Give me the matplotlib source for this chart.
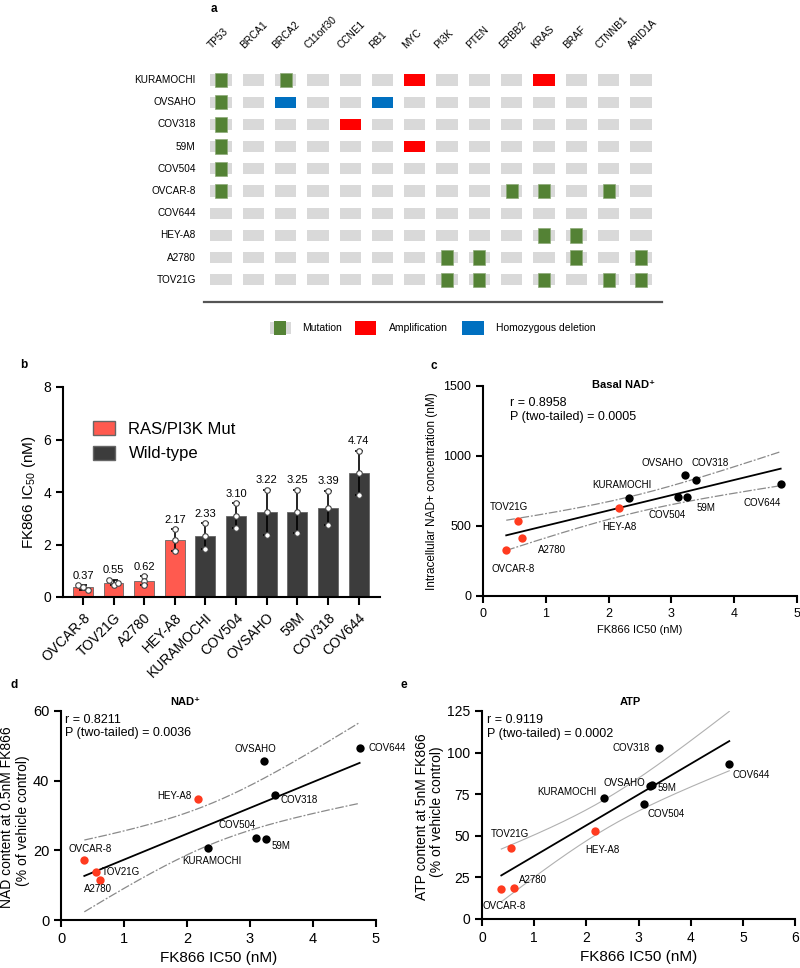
import numpy as np
import matplotlib
matplotlib.use("Agg")
import matplotlib.pyplot as plt
from matplotlib.patches import Rectangle, Patch

plt.rcParams['font.family'] = ['Liberation Sans', 'DejaVu Sans']
plt.rcParams['mathtext.default'] = 'regular'

W, H = 800, 968

# ---- panel a: alteration map ----
genes = ["TP53", "BRCA1", "BRCA2", "C11orf30", "CCNE1", "RB1", "MYC", "PI3K",
         "PTEN", "ERBB2", "KRAS", "BRAF", "CTNNB1", "ARID1A"]
cell_lines = ["KURAMOCHI", "OVSAHO", "COV318", "59M", "COV504", "OVCAR-8",
              "COV644", "HEY-A8", "A2780", "TOV21G"]
mutation = [("KURAMOCHI", "TP53"), ("KURAMOCHI", "BRCA2"), ("OVSAHO", "TP53"),
            ("COV318", "TP53"), ("59M", "TP53"), ("COV504", "TP53"),
            ("OVCAR-8", "TP53"), ("OVCAR-8", "ERBB2"), ("OVCAR-8", "KRAS"),
            ("OVCAR-8", "CTNNB1"), ("HEY-A8", "KRAS"), ("HEY-A8", "BRAF"),
            ("A2780", "PI3K"), ("A2780", "PTEN"), ("A2780", "BRAF"), ("A2780", "ARID1A"),
            ("TOV21G", "PI3K"), ("TOV21G", "PTEN"), ("TOV21G", "KRAS"),
            ("TOV21G", "CTNNB1"), ("TOV21G", "ARID1A")]
amplification = [("KURAMOCHI", "MYC"), ("KURAMOCHI", "KRAS"), ("COV318", "CCNE1"), ("59M", "MYC")]
deletion = [("OVSAHO", "BRCA2"), ("OVSAHO", "RB1")]

# ---- panel b: FK866 IC50 ----
lines_b = ["OVCAR-8", "TOV21G", "A2780", "HEY-A8", "KURAMOCHI", "COV504",
           "OVSAHO", "59M", "COV318", "COV644"]
ic50 = [0.37, 0.55, 0.62, 2.17, 2.33, 3.10, 3.22, 3.25, 3.39, 4.74]
replicates = [[0.45, 0.28, 0.38], [0.65, 0.45, 0.55], [0.80, 0.60, 0.45],
              [2.58, 2.18, 1.75], [2.81, 2.33, 1.84], [3.57, 3.10, 2.63],
              [4.08, 3.22, 2.37], [4.08, 3.24, 2.43], [4.05, 3.39, 2.75],
              [5.57, 4.73, 3.89]]
ras_mut = ["OVCAR-8", "TOV21G", "A2780", "HEY-A8"]

# ---- panels c-e (same order as lines_b) ----
nad_basal = [330, 536, 412, 626, 702, 709, 866, 707, 829, 800]
nad_content = [17.2, 13.7, 11.5, 34.6, 20.7, 23.4, 45.7, 23.2, 35.8, 49.5]
atp_content = [18.2, 42.8, 18.9, 52.8, 72.8, 69.2, 80.2, 80.8, 103.0, 93.4]

GREEN, RED, BLUE, GREY = "#548235", "#FF0000", "#0070C0", "#D9D9D9"
BAR_RED, BAR_DARK = "#FF5A4F", "#3C3C3C"
PT_RED = "#FF3B1F"

fig = plt.figure(figsize=(W / 100, H / 100), dpi=100)


def add_ax(l, t, r, b):
    return fig.add_axes([l / W, 1 - b / H, (r - l) / W, (b - t) / H])


def ftext(x, y, s, **kw):
    fig.text(x / W, 1 - y / H, s, **kw)


# ================= panel a =================
ax = add_ax(204, 60, 662, 302)
ax.set_xlim((204 - 221) / 32.3, (662 - 221) / 32.3)
ax.set_ylim((302 - 80) / 22.2, (60 - 80) / 22.2)
for r, line in enumerate(cell_lines):
    for c, gene in enumerate(genes):
        ax.add_patch(Rectangle((c - 0.33, r - 0.25), 0.66, 0.5, fc=GREY, ec="none"))
for kind, col in ((amplification, RED), (deletion, BLUE)):
    for line, gene in kind:
        c, r = genes.index(gene), cell_lines.index(line)
        ax.add_patch(Rectangle((c - 0.33, r - 0.25), 0.66, 0.5, fc=col, ec="none"))
for line, gene in mutation:
    c, r = genes.index(gene), cell_lines.index(line)
    ax.add_patch(Rectangle((c - 0.185, r - 0.32), 0.37, 0.64, fc=GREEN, ec="#8DAA78", lw=0.5))
for c, gene in enumerate(genes):
    ax.text(c - 0.28, -1.38, gene, rotation=45, rotation_mode="anchor", ha="left",
            va="baseline", fontsize=7.3, clip_on=False)
for r, line in enumerate(cell_lines):
    ax.text(-0.78, r, line, ha="right", va="center", fontsize=7.2, clip_on=False)
for s in ("top", "left", "right"):
    ax.spines[s].set_visible(False)
ax.spines["bottom"].set_color("#555555")
ax.spines["bottom"].set_linewidth(1.6)
ax.set_xticks([])
ax.set_yticks([])

# legend of panel a
ly = (328 - 80) / 22.2
ax.add_patch(Rectangle((1.84 - 0.33, ly - 0.25), 0.66, 0.5, fc=GREY, ec="none", clip_on=False))
ax.add_patch(Rectangle((1.84 - 0.185, ly - 0.32), 0.37, 0.64, fc=GREEN, ec="none", clip_on=False))
ax.text(2.51, ly, "Mutation", va="center", fontsize=7.5, clip_on=False)
ax.add_patch(Rectangle((4.47 - 0.33, ly - 0.3), 0.66, 0.6, fc=RED, ec="none", clip_on=False))
ax.text(5.2, ly, "Amplification", va="center", fontsize=7.5, clip_on=False)
ax.add_patch(Rectangle((7.8 - 0.33, ly - 0.3), 0.66, 0.6, fc=BLUE, ec="none", clip_on=False))
ax.text(8.51, ly, "Homozygous deletion", va="center", fontsize=7.5, clip_on=False)
ftext(214, 9, "a", fontweight="bold", fontsize=8.5, ha="center", va="center")

# ================= panel b =================
axb = add_ax(63, 387, 380, 597)
xb = np.arange(len(lines_b))
sd = [np.std(r, ddof=1) for r in replicates]
cols = [BAR_RED if l in ras_mut else BAR_DARK for l in lines_b]
axb.bar(xb, ic50, width=0.65, color=cols, edgecolor="#666666", linewidth=0.6, zorder=1)
axb.errorbar(xb, ic50, yerr=sd, fmt="none", ecolor="black", elinewidth=1.2,
             capsize=3, capthick=1.2, zorder=2)
jit = [[-0.17, 0.17, 0.0], [-0.15, 0.0, 0.15], [0, 0, 0]] + [[0, 0, 0]] * 7
for i, reps in enumerate(replicates):
    axb.plot(i + np.array(jit[i]), reps, "o", ms=4, mfc="white", mec="#444444",
             mew=0.8, zorder=3, clip_on=False)
    top = max(ic50[i] + sd[i], max(reps))
    axb.text(i, top + 0.17, f"{ic50[i]:.2f}", ha="center", va="bottom", fontsize=8)
axb.set_xlim(-0.65, 9.7)
axb.set_ylim(0, 8)
axb.set_yticks([0, 2, 4, 6, 8])
axb.set_xticks(xb)
axb.set_xticklabels(lines_b, rotation=45, ha="right", rotation_mode="anchor", fontsize=10)
axb.tick_params(axis="y", labelsize=10, width=1.5, length=5)
axb.tick_params(axis="x", width=1.5, length=6)
axb.set_ylabel("FK866 IC$_{50}$ (nM)", fontsize=11, labelpad=4)
for s in ("top", "right"):
    axb.spines[s].set_visible(False)
for s in ("left", "bottom"):
    axb.spines[s].set_linewidth(1.5)
handles = [Patch(fc=BAR_RED, ec="#666666", label="RAS/PI3K Mut"),
           Patch(fc=BAR_DARK, ec="#666666", label="Wild-type")]
axb.legend(handles=handles, loc="upper left", bbox_to_anchor=(0.075, 0.87), frameon=False,
           fontsize=12, handlelength=1.3, handleheight=0.9, labelspacing=0.55,
           handletextpad=0.8, borderaxespad=0)
ftext(24, 365, "b", fontweight="bold", fontsize=8.5, ha="center", va="center")


# ================= scatter panels =================
def scatter_panel(ax, y, ylim, yticks, xmax, offsets, band, tick_fs):
    x = np.array(ic50)
    y = np.array(y, dtype=float)
    slope, icpt = np.polyfit(x, y, 1)
    n = len(x)
    resid = y - (slope * x + icpt)
    s = np.sqrt(np.sum(resid ** 2) / (n - 2))
    sxx = np.sum((x - x.mean()) ** 2)
    xs = np.linspace(x.min(), x.max(), 200)
    ys = slope * xs + icpt
    half = 2.306 * s * np.sqrt(1 / n + (xs - x.mean()) ** 2 / sxx)
    ax.plot(xs, ys, color="black", lw=1.3, zorder=2)
    ax.plot(xs, ys + half, zorder=1, **band)
    ax.plot(xs, ys - half, zorder=1, **band)
    for i, name in enumerate(lines_b):
        col = PT_RED if name in ras_mut else "black"
        ax.plot(x[i], y[i], "o", ms=6, color=col, mec="none", zorder=3, clip_on=False)
        dx, dy, ha = offsets[name]
        ax.annotate(name, (x[i], y[i]), xytext=(dx, dy), textcoords="offset pixels",
                    ha=ha, va="center", fontsize=7)
    ax.set_xlim(0, xmax)
    ax.set_xticks(range(0, xmax + 1))
    ax.set_ylim(*ylim)
    ax.set_yticks(yticks)
    ax.tick_params(labelsize=tick_fs, width=1.5, length=5)
    for sp in ("top", "right"):
        ax.spines[sp].set_visible(False)
    for sp in ("left", "bottom"):
        ax.spines[sp].set_linewidth(1.5)


dashed = dict(color="#8A8A8A", lw=0.9, ls=(0, (7, 1.5, 1.5, 1.5)))
thin = dict(color="#B0B0B0", lw=0.8, ls="-")

# panel c
axc = add_ax(483, 386, 797, 596)
off_c = {"OVCAR-8": (7, -19, "center"), "TOV21G": (-9, 14, "center"),
         "A2780": (30, -12, "center"), "HEY-A8": (0, -19, "center"),
         "KURAMOCHI": (-7, 13, "center"), "COV504": (-11, -18, "center"),
         "59M": (19, -11, "center"), "OVSAHO": (-23, 12, "center"),
         "COV318": (14, 17, "center"), "COV644": (-18, -19, "center")}
scatter_panel(axc, nad_basal, (0, 1500), [0, 500, 1000, 1500], 5, off_c, dashed, 9)
axc.set_xlabel("FK866 IC50 (nM)", fontsize=8, labelpad=4)
axc.set_ylabel("Intracellular NAD+ concentration (nM)", fontsize=8.5, labelpad=4)
ftext(510, 403, "r = 0.8958", fontsize=9, va="center")
ftext(510, 417, "P (two-tailed) = 0.0005", fontsize=9, va="center")
ftext(624, 385, "Basal NAD\u207a", fontsize=8, fontweight="bold", ha="center", va="center")
ftext(434, 366, "c", fontweight="bold", fontsize=8.5, ha="center", va="center")

# panel d
axd = add_ax(61, 711, 376, 920)
off_d = {"OVCAR-8": (6, 11, "center"), "TOV21G": (25, 0, "center"),
         "A2780": (-2, -9, "center"), "HEY-A8": (-23, 3, "center"),
         "KURAMOCHI": (4, -13, "center"), "COV504": (-19, 13, "center"),
         "59M": (15, -7, "center"), "OVSAHO": (-8, 12, "center"),
         "COV318": (25, -5, "center"), "COV644": (9, 0, "left")}
scatter_panel(axd, nad_content, (0, 60), [0, 20, 40, 60], 5, off_d, dashed, 10.5)
axd.set_xlabel("FK866 IC50 (nM)", fontsize=11)
ftext(7, 817, "NAD content at 0.5nM FK866", fontsize=10, rotation=90, ha="center", va="center")
ftext(23, 821, "(% of vehicle control)", fontsize=10, rotation=90, ha="center", va="center")
ftext(65, 720, "r = 0.8211", fontsize=9, va="center")
ftext(65, 733, "P (two-tailed) = 0.0036", fontsize=9, va="center")
ftext(185, 702, "NAD\u207a", fontsize=8, fontweight="bold", ha="center", va="center")
ftext(14, 685, "d", fontweight="bold", fontsize=8.5, ha="center", va="center")

# panel e
axe = add_ax(482, 711, 795, 919)
off_e = {"OVCAR-8": (3, -17, "center"), "TOV21G": (-1, 14, "center"),
         "A2780": (19, 8, "center"), "HEY-A8": (7, -19, "center"),
         "KURAMOCHI": (-37, 6, "center"), "COV504": (22, -10, "center"),
         "59M": (15, -3, "center"), "OVSAHO": (-26, 3, "center"),
         "COV318": (-28, 0, "center"), "COV644": (22, -11, "center")}
scatter_panel(axe, atp_content, (0, 125), [0, 25, 50, 75, 100, 125], 6, off_e, thin, 10)
axe.set_xlabel("FK866 IC50 (nM)", fontsize=11)
ftext(422, 817, "ATP content at 5nM FK866", fontsize=10, rotation=90, ha="center", va="center")
ftext(437, 812, "(% of vehicle control)", fontsize=10, rotation=90, ha="center", va="center")
ftext(487, 720, "r = 0.9119", fontsize=9, va="center")
ftext(487, 734, "P (two-tailed) = 0.0002", fontsize=9, va="center")
ftext(630, 702, "ATP", fontsize=8, fontweight="bold", ha="center", va="center")
ftext(404, 685, "e", fontweight="bold", fontsize=8.5, ha="center", va="center")

fig.savefig("out.png", dpi=100)
